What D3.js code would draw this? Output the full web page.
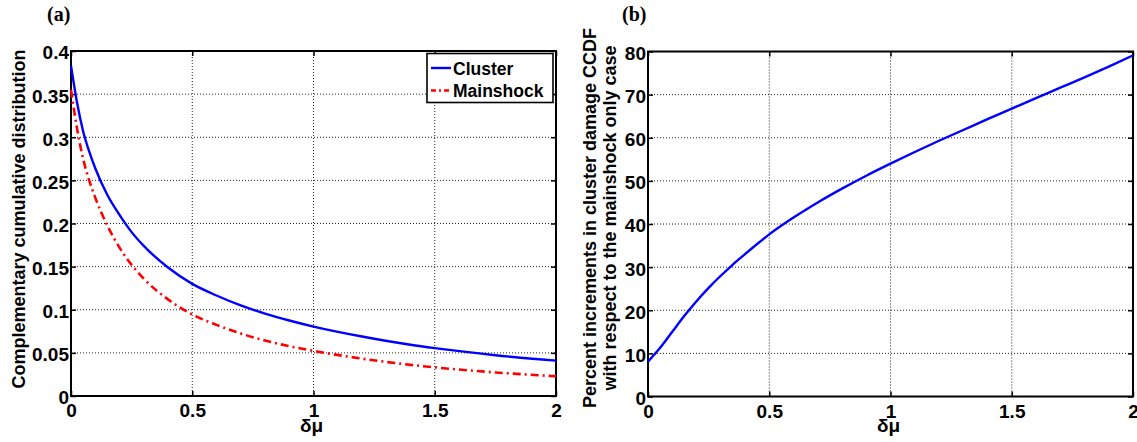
<!DOCTYPE html>
<html><head><meta charset="utf-8">
<script src="https://cdn.jsdelivr.net/npm/d3@7"></script>
<style>
html,body{margin:0;padding:0;background:#fff;}
svg{display:block;}
text{font-family:"Liberation Sans",Arial,Helvetica,sans-serif;font-weight:bold;fill:#000;}
</style></head><body>
<svg id="chart" width="1137" height="442"></svg>
<script>
// ---- data ----
const deltaMu = [0, 0.025, 0.05, 0.075, 0.1, 0.15, 0.2, 0.25, 0.3, 0.4, 0.5, 0.6, 0.7, 0.8, 0.9, 1.0, 1.2, 1.4, 1.5, 1.75, 2.0];
const clusterCCDF = [0.383, 0.340, 0.307, 0.2835, 0.264, 0.233, 0.210, 0.190, 0.174, 0.149, 0.130, 0.1165, 0.105, 0.0955, 0.0875, 0.0805, 0.069, 0.0594, 0.0555, 0.0473, 0.041];
const mainshockCCDF = [0.355, 0.310, 0.275, 0.250, 0.230, 0.1975, 0.172, 0.152, 0.136, 0.112, 0.0945, 0.0825, 0.0725, 0.0643, 0.0577, 0.0523, 0.0433, 0.0361, 0.0332, 0.0273, 0.0229];

const deltaMuB = [0, 0.05, 0.1, 0.15, 0.2, 0.25, 0.3, 0.35, 0.4, 0.45, 0.5, 0.6, 0.7, 0.8, 0.9, 1.0, 1.1, 1.2, 1.3, 1.4, 1.5, 1.6, 1.7, 1.8, 1.9, 2.0];
const percentIncrement = [8.1, 11.3, 15.0, 18.7, 22.1, 25.2, 28.0, 30.6, 33.0, 35.35, 37.6, 41.5, 45.0, 48.2, 51.2, 54.0, 56.7, 59.3, 61.8, 64.3, 66.75, 69.2, 71.6, 74.0, 76.5, 79.1];

const xTicks = [0, 0.5, 1, 1.5, 2];
const yTicksA = [0, 0.05, 0.1, 0.15, 0.2, 0.25, 0.3, 0.35, 0.4];
const yTicksB = [0, 10, 20, 30, 40, 50, 60, 70, 80];
const legendLabels = ["Cluster", "Mainshock"];

// ---- drawing ----
const svg = d3.select("#chart");

function panel(cfg) {
  const g = svg.append("g");
  const x = d3.scaleLinear().domain([0, 2]).range([cfg.left, cfg.right]);
  const y = d3.scaleLinear().domain(cfg.yDomain).range([cfg.bottom, cfg.top]);

  const grid = g.append("g").attr("stroke", "#222").attr("stroke-width", 1).attr("stroke-dasharray", "1,2");
  xTicks.slice(1, -1).forEach(t => grid.append("line")
    .attr("x1", x(t)).attr("x2", x(t)).attr("y1", cfg.top).attr("y2", cfg.bottom));
  cfg.yTicks.slice(1, -1).forEach(t => grid.append("line")
    .attr("x1", cfg.left).attr("x2", cfg.right).attr("y1", y(t)).attr("y2", y(t)));

  const ax = d3.axisBottom(x).tickValues(xTicks).tickFormat(d3.format("")).tickSize(-5).tickPadding(8);
  const gx = g.append("g").attr("transform", `translate(0,${cfg.bottom})`).call(ax);
  const axT = d3.axisTop(x).tickValues(xTicks).tickFormat("").tickSize(-5);
  const gxt = g.append("g").attr("transform", `translate(0,${cfg.top})`).call(axT);
  const ay = d3.axisLeft(y).tickValues(cfg.yTicks).tickFormat(cfg.fmt).tickSize(-5).tickPadding(2);
  const gy = g.append("g").attr("transform", `translate(${cfg.left},0)`).call(ay);
  const ayR = d3.axisRight(y).tickValues(cfg.yTicks).tickFormat("").tickSize(-5);
  const gyr = g.append("g").attr("transform", `translate(${cfg.right},0)`).call(ayR);
  [gx, gxt, gy, gyr].forEach(a => {
    a.select(".domain").remove();
    a.selectAll(".tick line").attr("stroke", "#000").attr("stroke-width", 1.5);
    a.selectAll("text").style("font-size", "19px").style("font-family", "Liberation Sans, Arial, sans-serif").style("font-weight", "bold").attr("fill", "#000");
  });
  gy.selectAll("text").attr("dy", "0.42em");

  g.append("rect").attr("x", cfg.left).attr("y", cfg.top)
    .attr("width", cfg.right - cfg.left).attr("height", cfg.bottom - cfg.top)
    .attr("fill", "none").attr("stroke", "#000").attr("stroke-width", 2);

  g.append("text").attr("x", (cfg.left + cfg.right) / 2 - 2).attr("y", 432)
    .attr("text-anchor", "middle").style("font-size", "19px").text("δμ");

  g.append("text").attr("x", cfg.titleX).attr("y", 21)
    .style("font-family", "Liberation Serif, Times New Roman, serif").style("font-size", "20px").text(cfg.title);
  return {g, x, y};
}

// Panel (a)
const A = panel({left: 71, right: 556, top: 51, bottom: 396, yDomain: [0, 0.4], yTicks: yTicksA,
  fmt: d => String(+d.toFixed(2)), title: "(a)", titleX: 47});
const lineA = d3.line().x(d => A.x(d[0])).y(d => A.y(d[1])).curve(d3.curveMonotoneX);
A.g.append("path").datum(deltaMu.map((d, i) => [d, mainshockCCDF[i]]))
  .attr("d", lineA).attr("fill", "none").attr("stroke", "#ff0000").attr("stroke-width", 2.6)
  .attr("stroke-dasharray", "8,4,2,4");
A.g.append("path").datum(deltaMu.map((d, i) => [d, clusterCCDF[i]]))
  .attr("d", lineA).attr("fill", "none").attr("stroke", "#0000ff").attr("stroke-width", 2.4);

A.g.append("text").attr("transform", "translate(25,219) rotate(-90)").attr("text-anchor", "middle")
  .style("font-size", "18px").text("Complementary cumulative distribution");

// legend
const leg = A.g.append("g");
leg.append("rect").attr("x", 427).attr("y", 53.5).attr("width", 126).attr("height", 49)
  .attr("fill", "#fff").attr("stroke", "#000").attr("stroke-width", 1.6);
const legStyles = [{c: "#0000ff", dash: null, y: 68, ty: 74.5}, {c: "#ff0000", dash: "5,3,2,3", y: 90.5, ty: 96.5}];
legendLabels.forEach((lab, i) => {
  const s = legStyles[i];
  const l = leg.append("line").attr("x1", 431).attr("x2", 451).attr("y1", s.y).attr("y2", s.y)
    .attr("stroke", s.c).attr("stroke-width", 2.4);
  if (s.dash) l.attr("stroke-dasharray", s.dash);
  leg.append("text").attr("x", 453).attr("y", s.ty).style("font-size", "17.5px").text(lab);
});

// Panel (b)
const B = panel({left: 648, right: 1133, top: 51.5, bottom: 396.5, yDomain: [0, 80], yTicks: yTicksB,
  fmt: d3.format("d"), title: "(b)", titleX: 622});
const lineB = d3.line().x(d => B.x(d[0])).y(d => B.y(d[1])).curve(d3.curveMonotoneX);
B.g.append("path").datum(deltaMuB.map((d, i) => [d, percentIncrement[i]]))
  .attr("d", lineB).attr("fill", "none").attr("stroke", "#0000ff").attr("stroke-width", 2.4);

const lab = B.g.append("text").attr("transform", "translate(596,218) rotate(-90)").attr("text-anchor", "middle")
  .style("font-size", "18px");
lab.append("tspan").attr("x", 0).attr("dy", 0).text("Percent increments in cluster damage CCDF");
lab.append("tspan").attr("x", 0).attr("dy", 20).text("with respect to the mainshock only case");
</script>
</body></html>
